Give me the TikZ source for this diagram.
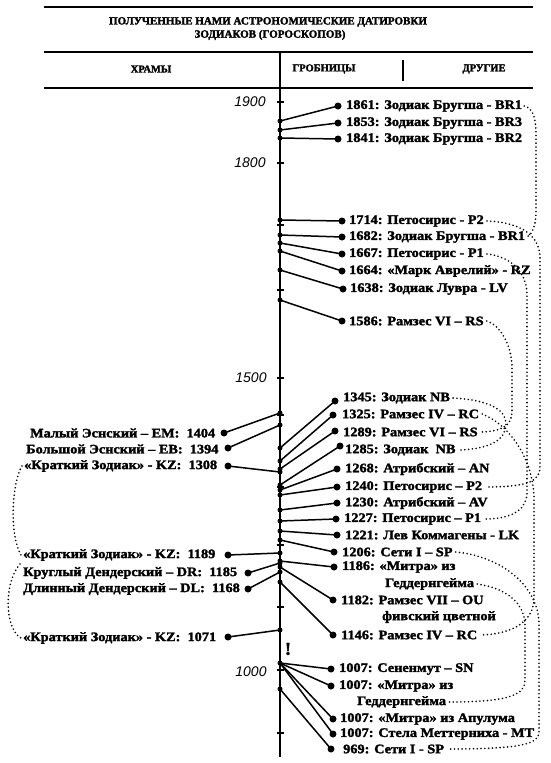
\documentclass[tikz,border=0pt]{standalone}
\usepackage{fontspec}
\setmainfont{Liberation Serif}
\newfontfamily\lblfont{Liberation Serif}[FakeStretch=1.1, FakeBold=2]
\newfontfamily\hdfont{Liberation Serif}[FakeBold=2]
\newfontfamily\axfont{Liberation Sans}
\newcommand\lblsize{\lblfont\bfseries\fontsize{13}{15}\selectfont}
\tikzset{
  rule/.style={line width=1.5pt},
  axisline/.style={line width=1.6pt},
  ticks/.style={line width=1.1pt},
  conn/.style={line width=1.5pt},
  axdot/.style={circle, fill, inner sep=0pt, minimum size=5pt},
  enddot/.style={circle, fill, inner sep=0pt, minimum size=7pt},
  rlab/.style={anchor=west, inner sep=0pt, font=\lblsize},
  llab/.style={anchor=west, inner sep=0pt, font=\lblsize},
  titletext/.style={inner sep=0pt, font=\hdfont\bfseries\fontsize{11}{13}\selectfont},
  hdrtext/.style={inner sep=0pt, font=\hdfont\bfseries\fontsize{10.5}{12}\selectfont},
  yearlab/.style={inner sep=0pt, font=\axfont\itshape\fontsize{14}{15}\selectfont},
  dots/.style={line width=1.8pt, line cap=round, dash pattern=on 0pt off 3.8pt},
}
\begin{document}
\begin{tikzpicture}[x=1pt,y=-1pt]
\useasboundingbox (0,0) rectangle (550,763);
\fill[white] (0,0) rectangle (550,763);

% header
\draw[rule] (44,7) -- (533,7);
\node[titletext] (t1) at (268,22) {ПОЛУЧЕННЫЕ НАМИ АСТРОНОМИЧЕСКИЕ ДАТИРОВКИ};
\node[titletext] (t2) at (270,35) {ЗОДИАКОВ (ГОРОСКОПОВ)};
\draw[rule] (44,52) -- (533,52);
\node[hdrtext] (h1) at (151,69) {ХРАМЫ};
\node[hdrtext] (h2) at (324,69) {ГРОБНИЦЫ};
\node[hdrtext] (h3) at (484,69) {ДРУГИЕ};
\draw[line width=2pt] (403,60) -- (403,81);
\draw[rule] (44,88) -- (533,88);

% axis
\draw[axisline] (280,52) -- (280,757);
\foreach \yy in {102,163,225,290,378,415,487,545,607,670,733}
  \draw[ticks] (276.5,\yy) -- (283.5,\yy);
\node[yearlab] (y1900) at (250,102) {1900};
\node[yearlab] (y1800) at (250,163) {1800};
\node[yearlab] (y1500) at (251,378) {1500};
\node[yearlab] (y1000) at (251,672) {1000};
\node[inner sep=0pt, font=\hdfont\bfseries\fontsize{18}{18}\selectfont] (excl) at (288,649) {!};

% right entries
\node[axdot] (a1) at (280,121) {}; \node[enddot] (e1) at (338,106) {};
\node[rlab] (r1) at (346,106) {1861: Зодиак Бругша - BR1}; \draw[conn] (a1.center) -- (e1.center);
\node[axdot] (a2) at (280,130) {}; \node[enddot] (e2) at (338,123) {};
\node[rlab] (r2) at (346,123) {1853: Зодиак Бругша - BR3}; \draw[conn] (a2.center) -- (e2.center);
\node[axdot] (a3) at (280,138) {}; \node[enddot] (e3) at (338,139) {};
\node[rlab] (r3) at (346,139) {1841: Зодиак Бругша - BR2}; \draw[conn] (a3.center) -- (e3.center);

\node[axdot] (a4) at (280,220) {}; \node[enddot] (e4) at (342,221) {};
\node[rlab] (r4) at (349,221) {1714: Петосирис - P2}; \draw[conn] (a4.center) -- (e4.center);
\node[axdot] (a5) at (280,235) {}; \node[enddot] (e5) at (342,237) {};
\node[rlab] (r5) at (349,237) {1682: Зодиак Бругша - BR1}; \draw[conn] (a5.center) -- (e5.center);
\node[axdot] (a6) at (280,243) {}; \node[enddot] (e6) at (342,254) {};
\node[rlab] (r6) at (349,254) {1667: Петосирис - P1}; \draw[conn] (a6.center) -- (e6.center);
\node[axdot] (a7) at (280,251) {}; \node[enddot] (e7) at (342,271) {};
\node[rlab] (r7) at (349,271) {1664: «Марк Аврелий» - RZ}; \draw[conn] (a7.center) -- (e7.center);
\node[axdot] (a8) at (280,270) {}; \node[enddot] (e8) at (343,289) {};
\node[rlab] (r8) at (350,289) {1638: Зодиак Лувра - LV}; \draw[conn] (a8.center) -- (e8.center);
\node[axdot] (a9) at (280,300) {}; \node[enddot] (e9) at (342,321) {};
\node[rlab] (r9) at (349,321) {1586: Рамзес VI – RS}; \draw[conn] (a9.center) -- (e9.center);

\node[axdot] (a10) at (280,448) {}; \node[enddot] (e10) at (335,401) {};
\node[rlab] (r10) at (343,398) {1345: Зодиак NB}; \draw[conn] (a10.center) -- (e10.center);
\node[axdot] (a11) at (280,461) {}; \node[enddot] (e11) at (333,415) {};
\node[rlab] (r11) at (342,414) {1325: Рамзес IV – RC}; \draw[conn] (a11.center) -- (e11.center);
\node[axdot] (a12) at (280,469) {}; \node[enddot] (e12) at (335,431) {};
\node[rlab] (r12) at (343,432) {1289: Рамзес VI – RS}; \draw[conn] (a12.center) -- (e12.center);
\node[axdot] (a13) at (280,485) {}; \node[enddot] (e13) at (340,446) {};
\node[rlab] (r13) at (345,450) {1285: Зодиак\ \ NB}; \draw[conn] (a13.center) -- (e13.center);
\node[axdot] (a14) at (280,490) {}; \node[enddot] (e14) at (337,469) {};
\node[rlab] (r14) at (345,469) {1268: Атрибский – AN}; \draw[conn] (a14.center) -- (e14.center);
\node[axdot] (a15) at (280,495) {}; \node[enddot] (e15) at (337,487) {};
\node[rlab] (r15) at (345,487) {1240: Петосирис – P2}; \draw[conn] (a15.center) -- (e15.center);
\node[axdot] (a16) at (280,510) {}; \node[enddot] (e16) at (337,503) {};
\node[rlab] (r16) at (345,503) {1230: Атрибский – AV}; \draw[conn] (a16.center) -- (e16.center);
\node[axdot] (a17) at (280,521) {}; \node[enddot] (e17) at (336,519) {};
\node[rlab] (r17) at (344,519) {1227: Петосирис – P1}; \draw[conn] (a17.center) -- (e17.center);
\node[axdot] (a18) at (280,531) {}; \node[enddot] (e18) at (337,535) {};
\node[rlab] (r18) at (345,535) {1221: Лев Коммагены - LK}; \draw[conn] (a18.center) -- (e18.center);
\node[axdot] (a19) at (280,540) {}; \node[enddot] (e19) at (334,552) {};
\node[rlab] (r19) at (342,552) {1206: Сети I – SP}; \draw[conn] (a19.center) -- (e19.center);
\node[axdot] (a20) at (280,561) {}; \node[enddot] (e20) at (334,567) {};
\node[rlab] (r20) at (342,567) {1186: «Митра» из};
\node[rlab] (r20b) at (385,584) {Геддернгейма}; \draw[conn] (a20.center) -- (e20.center);
\node[axdot] (a21) at (280,567) {}; \node[enddot] (e21) at (333,600) {};
\node[rlab] (r21) at (341,600) {1182: Рамзес VII – OU};
\node[rlab] (r21b) at (382,617) {фивский цветной}; \draw[conn] (a21.center) -- (e21.center);
\node[axdot] (a22) at (280,582) {}; \node[enddot] (e22) at (333,635) {};
\node[rlab] (r22) at (341,635) {1146: Рамзес IV – RC}; \draw[conn] (a22.center) -- (e22.center);

\node[axdot] (a23) at (280,663) {};
\node[enddot] (e23) at (331,669) {}; \node[rlab] (r23) at (339,669) {1007: Сененмут – SN};
\node[enddot] (e24) at (331,686) {}; \node[rlab] (r24) at (339,686) {1007: «Митра» из};
\node[rlab] (r24b) at (357,702) {Геддернгейма};
\node[enddot] (e25) at (333,719) {}; \node[rlab] (r25) at (340,719) {1007: «Митра» из Апулума};
\node[enddot] (e26) at (333,734) {}; \node[rlab] (r26) at (340,734) {1007: Стела Меттерниха - MT};
\draw[conn] (a23.center) -- (e23.center);
\draw[conn] (a23.center) -- (e24.center);
\draw[conn] (a23.center) -- (e25.center);
\draw[conn] (a23.center) -- (e26.center);
\node[axdot] (a27) at (280,689) {}; \node[enddot] (e27) at (331,749) {};
\node[rlab] (r27) at (343,749) {969: Сети I - SP}; \draw[conn] (a27.center) -- (e27.center);

% left entries
\node[axdot] (b1) at (280,413) {}; \node[enddot] (f1) at (224,433) {};
\node[llab] (l1) at (30,433) {Малый Эснский – EM:\ \ 1404}; \draw[conn] (b1.center) -- (f1.center);
\node[axdot] (b2) at (280,425) {}; \node[enddot] (f2) at (228,448) {};
\node[llab] (l2) at (26,449) {Большой Эснский – EB:\ \ 1394}; \draw[conn] (b2.center) -- (f2.center);
\node[axdot] (b3) at (280,472) {}; \node[enddot] (f3) at (228,466) {};
\node[llab] (l3) at (24,466) {«Краткий Зодиак» - KZ:\ \ 1308}; \draw[conn] (b3.center) -- (f3.center);
\node[axdot] (b4) at (280,553) {}; \node[enddot] (f4) at (228,555) {};
\node[llab] (l4) at (23,555) {«Краткий Зодиак» - KZ:\ \ 1189}; \draw[conn] (b4.center) -- (f4.center);
\node[axdot] (b5) at (280,563) {}; \node[enddot] (f5) at (248,573) {};
\node[llab] (l5) at (23,573) {Круглый Дендерский – DR:\ \ 1185}; \draw[conn] (b5.center) -- (f5.center);
\node[axdot] (b6) at (280,572) {}; \node[enddot] (f6) at (248,589) {};
\node[llab] (l6) at (23,589) {Длинный Дендерский – DL:\ \ 1168}; \draw[conn] (b6.center) -- (f6.center);
\node[axdot] (b7) at (280,630) {}; \node[enddot] (f7) at (228,637) {};
\node[llab] (l7) at (23,638) {«Краткий Зодиак» - KZ:\ \ 1071}; \draw[conn] (b7.center) -- (f7.center);

% dotted links (same zodiac, different dates)
\draw[dots] ([xshift=2pt]r1.east) .. controls (533,108) and (536,118) .. (536,135) -- (536,212) .. controls (536,226) and (532,234) .. ([xshift=2pt]r5.east);
\draw[dots] ([xshift=3pt]r4.east) .. controls (515,222) and (540,232) .. (540,258) -- (540,466) .. controls (540,480) and (532,487) .. ([xshift=3pt]r15.east);
\draw[dots] ([xshift=3pt]r6.east) .. controls (508,256) and (527,270) .. (527,295) -- (527,492) .. controls (527,508) and (515,519) .. ([xshift=3pt]r17.east);
\draw[dots] ([xshift=3pt]r9.east) .. controls (500,325) and (512,345) .. (512,368) -- (512,410) .. controls (512,424) and (506,431) .. ([xshift=3pt]r12.east);
\draw[dots] ([xshift=3pt]r10.east) .. controls (490,400) and (506,410) .. (506,424) .. controls (506,440) and (490,449) .. ([xshift=3pt]r13.east);
\draw[dots] ([xshift=3pt]r11.east) .. controls (510,425) and (534,460) .. (534,500) -- (534,598) .. controls (534,620) and (515,634) .. ([xshift=3pt]r22.east);
\draw[dots] ([xshift=3pt]r20b.east) .. controls (505,588) and (525,602) .. (525,626) -- (525,680) .. controls (525,694) and (512,702) .. ([xshift=3pt]r24b.east);
\draw[dots] ([xshift=3pt]r19.east) .. controls (500,556) and (539,585) .. (539,625) -- (539,732) .. controls (539,744) and (522,749) .. ([xshift=3pt]r27.east);
\draw[dots] ([xshift=-2pt]l3.west) .. controls (12,482) and (9,535) .. ([xshift=-2pt]l4.west);
\draw[dots] ([xshift=-3pt,yshift=-3pt]l4.south west) .. controls (4,582) and (4,628) .. ([xshift=-2pt]l7.west);
\end{tikzpicture}
\end{document}
